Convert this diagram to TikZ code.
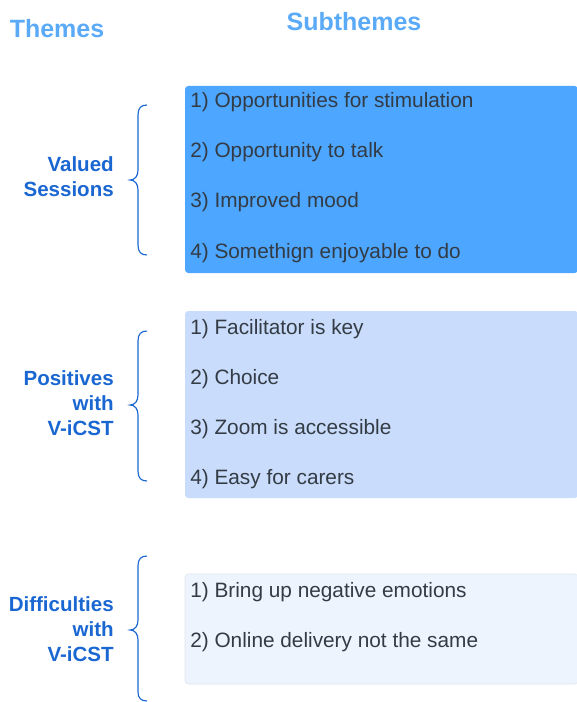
\documentclass[tikz,border=0pt]{standalone}
\usepackage{fontspec}
\setmainfont{Liberation Sans}
\definecolor{hdr}{HTML}{5AAAF7}
\definecolor{lbl}{HTML}{1A67D2}
\definecolor{txt}{HTML}{333B44}
\definecolor{boxA}{HTML}{4DA6FF}
\definecolor{boxB}{HTML}{C9DCFB}
\definecolor{boxC}{HTML}{EDF4FE}
\definecolor{boxCline}{HTML}{DCE3EC}
\begin{document}
\begin{tikzpicture}[x=0.75pt,y=-0.75pt,
 header/.style={font=\fontsize{18.75}{22}\selectfont\bfseries, text=hdr, inner sep=0},
 theme/.style={font=\fontsize{15.4}{18.75}\selectfont\bfseries, text=lbl, align=right, anchor=east, inner sep=0},
 item/.style={font=\fontsize{15.6}{18}\selectfont, text=txt, anchor=base west, inner sep=0},
 panel/.style={rounded corners=2.5pt},
 bracestyle/.style={draw=lbl, line width=0.85pt}
]
\useasboundingbox (0,0) rectangle (577,702);
% headers
\node[header] (hthemes) at (57,29) {Themes};
\node[header] (hsub) at (354,22) {Subthemes};
% panels
\fill[boxA, panel] (185,86) rectangle (578,273);
\fill[boxB, panel] (185,311) rectangle (578,498);
\filldraw[fill=boxC, draw=boxCline, line width=0.4pt, panel] (185,574) rectangle (578,684);
% items
\node[item] (a1) at (190,108) {1) Opportunities for stimulation};
\node[item] (a2) at (190,158) {2) Opportunity to talk};
\node[item] (a3) at (190,208) {3) Improved mood};
\node[item] (a4) at (190,258) {4) Somethign enjoyable to do};
\node[item] (b1) at (190,334) {1) Facilitator is key};
\node[item] (b2) at (190,384) {2) Choice};
\node[item] (b3) at (190,434) {3) Zoom is accessible};
\node[item] (b4) at (190,484) {4) Easy for carers};
\node[item] (c1) at (190,597) {1) Bring up negative emotions};
\node[item] (c2) at (190,647) {2) Online delivery not the same};
% themes
\node[theme] (t1) at (114,176.5) {Valued\\Sessions};
\node[theme] (t2) at (114,403) {Positives\\with\\V-iCST};
\node[theme] (t3) at (114,629) {Difficulties\\with\\V-iCST};
% braces
\draw[bracestyle] (147,105) .. controls (141,105) and (138,108) .. (138,115) -- (138,170) .. controls (138,176) and (135,180) .. (130,180) .. controls (135,180) and (138,184) .. (138,190) -- (138,245) .. controls (138,252) and (141,255) .. (147,255);
\draw[bracestyle] (147,331) .. controls (141,331) and (138,334) .. (138,341) -- (138,395) .. controls (138,401) and (135,405) .. (130,405) .. controls (135,405) and (138,409) .. (138,415) -- (138,471) .. controls (138,478) and (141,481) .. (147,481);
\draw[bracestyle] (147,556) .. controls (141,556) and (138,559) .. (138,566) -- (138,620) .. controls (138,626) and (135,630) .. (130,630) .. controls (135,630) and (138,634) .. (138,640) -- (138,692) .. controls (138,698) and (141,701) .. (147,701);
\end{tikzpicture}
\end{document}
